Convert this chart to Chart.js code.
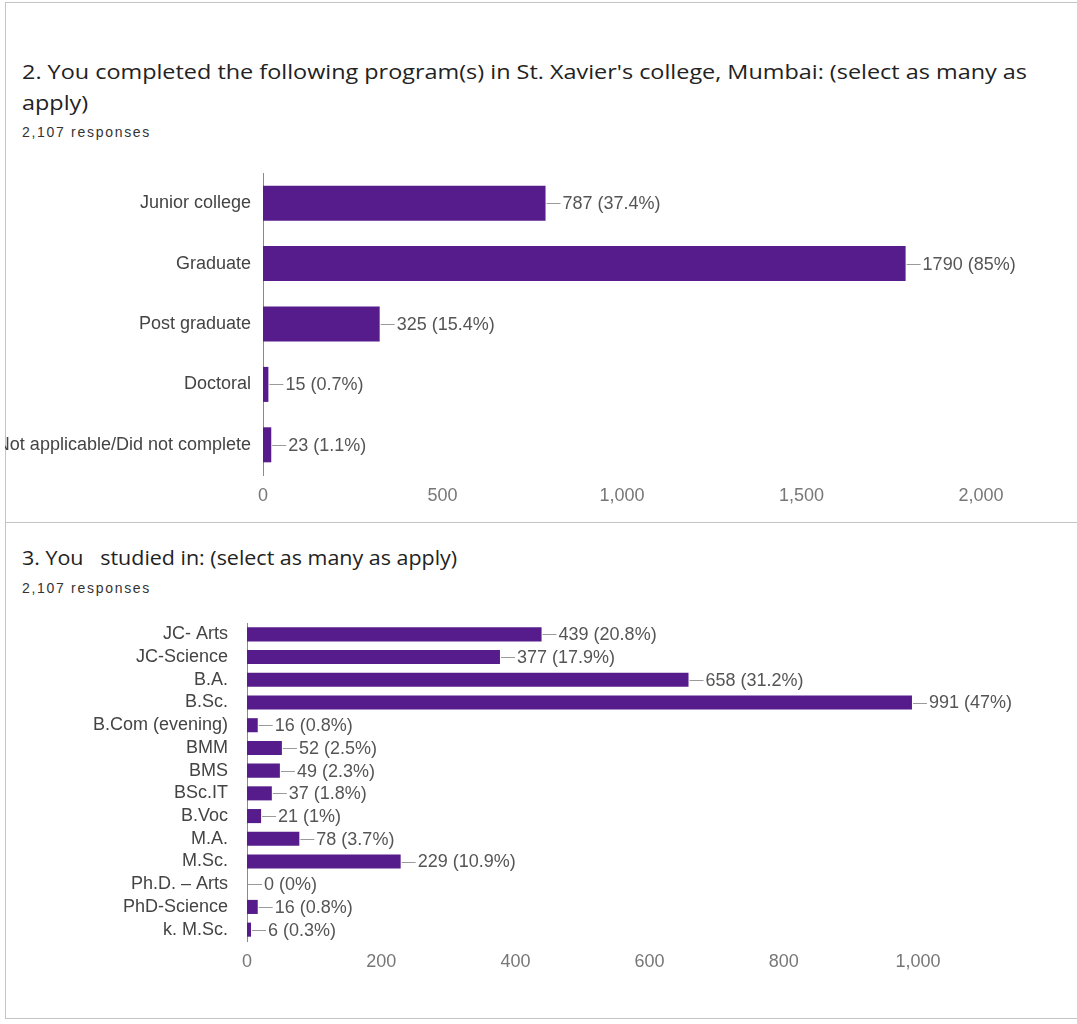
<!DOCTYPE html>
<html>
<head>
<meta charset="utf-8">
<script src="https://cdn.jsdelivr.net/npm/chart.js@4/dist/chart.umd.min.js"></script>
<style>
  body { margin: 0; background: #fff; width: 1077px; height: 1024px; position: relative; overflow: hidden; }
  .panel { position: absolute; left: 5px; width: 1090px; border: 1px solid #c4c4c4; box-sizing: border-box; }
  .title { position: absolute; left: 22px; font-family: "Open Sans", sans-serif; font-size: 19.5px; color: #222; line-height: 31px; white-space: nowrap; transform-origin: left top; }
  .count { position: absolute; left: 22px; font-family: "Liberation Sans", Arial, sans-serif; font-size: 14px; letter-spacing: 1.7px; color: #333; }
  canvas { position: absolute; left: 5px; }
</style>
</head>
<body>
<div class="panel" style="top:2px;height:521px;"></div>
<div class="panel" style="top:522px;height:497px;"></div>

<div class="title" style="top:56px;transform:scaleX(1.2);">2. You completed the following program(s) in St. Xavier's college, Mumbai: (select as many as<br>apply)</div>
<div class="count" style="top:124px;">2,107 responses</div>
<canvas id="programs" width="1072" height="342" style="top:173px;"></canvas>

<div class="title" style="top:542px;transform:scaleX(1.1);">3. You &nbsp; studied in: (select as many as apply)</div>
<div class="count" style="top:580px;">2,107 responses</div>
<canvas id="courses" width="1072" height="358" style="top:623px;"></canvas>

<script>
const barColor = '#571c8b';
const labelFont = { family: '"Liberation Sans", Arial, sans-serif', size: 18 };

// question 2
const programs = ['Junior college', 'Graduate', 'Post graduate', 'Doctoral', 'Not applicable/Did not complete'];
const programCounts = [787, 1790, 325, 15, 23];
const programPercents = ['37.4', '85', '15.4', '0.7', '1.1'];

// question 3
const courses = ['JC- Arts', 'JC-Science', 'B.A.', 'B.Sc.', 'B.Com (evening)', 'BMM', 'BMS', 'BSc.IT', 'B.Voc', 'M.A.', 'M.Sc.', 'Ph.D. – Arts', 'PhD-Science', 'k. M.Sc.'];
const courseCounts = [439, 377, 658, 991, 16, 52, 49, 37, 21, 78, 229, 0, 16, 6];
const coursePercents = ['20.8', '17.9', '31.2', '47', '0.8', '2.5', '2.3', '1.8', '1', '3.7', '10.9', '0', '0.8', '0.3'];

// short grey leader line from the bar end, then "count (pct%)"
const leaderLabels = {
  id: 'leaderLabels',
  afterDatasetsDraw(chart, args, opts) {
    const ctx = chart.ctx;
    const meta = chart.getDatasetMeta(0);
    ctx.save();
    ctx.font = '18px "Liberation Sans", Arial, sans-serif';
    ctx.textBaseline = 'middle';
    meta.data.forEach((bar, i) => {
      const y = Math.round(bar.y) + 0.5;
      ctx.strokeStyle = '#9a9a9a';
      ctx.lineWidth = 1;
      ctx.beginPath();
      ctx.moveTo(bar.x + 1, y);
      ctx.lineTo(bar.x + opts.lead, y);
      ctx.stroke();
      ctx.fillStyle = '#555';
      ctx.fillText(opts.texts[i], bar.x + opts.lead + 2, bar.y + 1);
    });
    ctx.restore();
  }
};

function makeChart(id, labels, counts, percents, cfg) {
  return new Chart(document.getElementById(id), {
    type: 'bar',
    data: {
      labels: labels,
      datasets: [{
        data: counts,
        backgroundColor: barColor,
        categoryPercentage: 1,
        barPercentage: cfg.barPct
      }]
    },
    options: {
      indexAxis: 'y',
      responsive: false,
      animation: false,
      layout: { padding: { top: 0, right: cfg.padRight, bottom: 0, left: 0 } },
      plugins: {
        legend: { display: false },
        tooltip: { enabled: false },
        leaderLabels: {
          lead: 15,
          texts: counts.map((v, i) => v + ' (' + percents[i] + '%)')
        }
      },
      scales: {
        x: {
          min: 0,
          max: cfg.max,
          grid: { display: false, drawTicks: false },
          border: { display: false },
          ticks: { stepSize: cfg.step, padding: 10, color: '#777', font: labelFont },
          afterFit(scale) { scale.height = 40; }
        },
        y: {
          grid: { display: false, drawTicks: false },
          border: { display: true, color: '#8a8a8a', width: 1 },
          ticks: { autoSkip: false, padding: cfg.labelPad, color: '#444', font: labelFont },
          afterFit(scale) {
            scale.width = cfg.axisWidth;
            scale.paddingTop = 0;
            scale.paddingBottom = 0;
          }
        }
      }
    },
    plugins: [leaderLabels]
  });
}

makeChart('programs', programs, programCounts, programPercents,
  { max: 2000, step: 500, barPct: 0.58, padRight: 96, axisWidth: 258, labelPad: 12 });

makeChart('courses', courses, courseCounts, coursePercents,
  { max: 1000, step: 200, barPct: 0.62, padRight: 159, axisWidth: 242, labelPad: 19 });
</script>
</body>
</html>
